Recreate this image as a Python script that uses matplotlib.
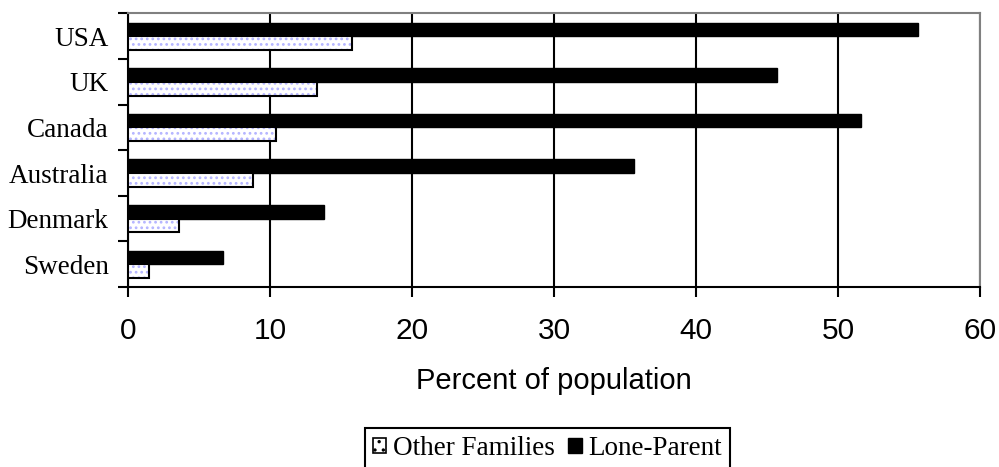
import numpy as np
import matplotlib.pyplot as plt
from matplotlib.patches import Patch

countries = ["USA", "UK", "Canada", "Australia", "Denmark", "Sweden"]
lone_parent = [55.6, 45.7, 51.6, 35.6, 13.8, 6.7]
other_families = [15.8, 13.3, 10.4, 8.8, 3.6, 1.5]

plt.rcParams["hatch.linewidth"] = 1.2

fig = plt.figure(figsize=(9.99, 4.67), dpi=100)
ax = fig.add_axes([0.1281, 0.3854, 0.8529, 0.5857])

pos = np.arange(len(countries))[::-1]
h = 0.3

# lone parent bars on top, other families just below
ax.barh(pos + h / 2, lone_parent, height=h, color="black",
        edgecolor="black", linewidth=1, zorder=3)
ax.barh(pos - h / 2, other_families, height=h, color="white",
        edgecolor="#b4b4ff", hatch="...", linewidth=0, zorder=3)
ax.barh(pos - h / 2, other_families, height=h, fill=False,
        edgecolor="black", linewidth=1.5, zorder=4)

ax.set_xlim(0, 60)
ax.set_ylim(-0.5, 5.5)
ax.set_xticks(range(0, 61, 10))
ax.tick_params(axis="x", direction="out", length=7.2, width=1.5, labelsize=21.5, pad=14.5)
for lab in ax.get_xticklabels():
    lab.set_family("Liberation Sans")

ax.set_yticks(np.arange(-0.5, 6, 1))
ax.set_yticklabels([])
ax.set_yticks(pos, minor=True)
ax.set_yticklabels(countries, minor=True, family="Liberation Serif", fontsize=19.5)
ax.tick_params(axis="y", which="major", direction="out", length=7.2, width=1.5)
ax.tick_params(axis="y", which="minor", length=0, pad=14)

ax.grid(axis="x", color="black", linewidth=1.5, zorder=0)
ax.set_axisbelow(True)
for s in ["left", "bottom"]:
    ax.spines[s].set_linewidth(1.5)
for s in ["top", "right"]:
    ax.spines[s].set_color("gray")
    ax.spines[s].set_linewidth(1.5)

ax.set_xlabel("Percent of population", family="Liberation Sans", fontsize=21,
              va="baseline")
ax.xaxis.set_label_coords(0.5, -(389 - 287) / 273.5)

handles = [Patch(facecolor="white", edgecolor="black", hatch="..", linewidth=1.2),
           Patch(facecolor="black", edgecolor="black")]
leg = fig.legend(handles, ["Other Families", "Lone-Parent"], loc="upper center",
                 bbox_to_anchor=(547.5 / 999, 1 - 428 / 467), ncol=2, frameon=True,
                 fancybox=False, edgecolor="black",
                 prop={"family": "Liberation Serif", "size": 19.5},
                 handlelength=0.5, handleheight=0.5, handletextpad=0.25,
                 columnspacing=0.5, borderpad=0.3, borderaxespad=0, framealpha=1)
leg.get_frame().set_linewidth(1.5)

fig.savefig("out.png", dpi=100)
